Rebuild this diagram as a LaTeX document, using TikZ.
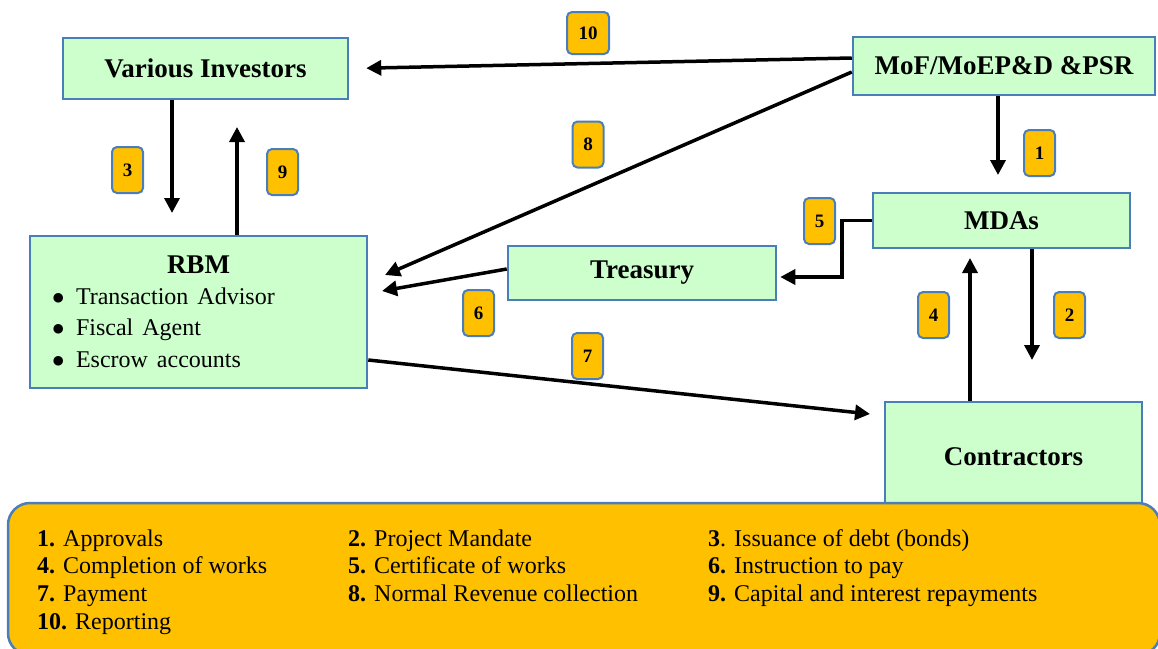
\documentclass[tikz,border=0pt]{standalone}
\usepackage{fontspec}
\setmainfont{Liberation Serif}
\usetikzlibrary{arrows.meta}
\definecolor{boxgreen}{HTML}{CCFFCC}
\definecolor{boxedge}{HTML}{4A7EBB}
\definecolor{amber}{HTML}{FFC000}
\newcommand{\bul}{\makebox[24pt][l]{$\bullet$}}

\begin{document}
\begin{tikzpicture}[x=1pt, y=-1pt,
  box/.style={rectangle, draw=boxedge, fill=boxgreen, line width=2.5pt,
    font=\bfseries\fontsize{27}{32}\selectfont},
  badge/.style={rectangle, rounded corners=5pt, draw=boxedge, fill=amber,
    line width=2pt, minimum width=31pt, minimum height=46pt, inner sep=0pt,
    font=\bfseries\fontsize{19}{22}\selectfont},
  flow/.style={line width=3.5pt, -{Triangle[length=15pt,width=15pt]}}]
  \useasboundingbox (0,0) rectangle (1158,648);

  % Nodes
  \draw (205.5,68.5) node(inv) [box, minimum width=285pt, minimum height=61pt] {Various Investors};
  \draw (1004,66)    node(mof) [box, minimum width=302pt, minimum height=58pt] {MoF/MoEP\&D \&PSR};
  \draw (1001.5,220.5) node(mda) [box, minimum width=257pt, minimum height=55pt] {MDAs};
  \draw (642,273)    node(tre) [box, minimum width=268pt, minimum height=54pt] {Treasury};
  \draw (198.5,312)  node(rbm) [box, minimum width=337pt, minimum height=152pt,
    text width=293pt, inner xsep=22pt, align=left] {\centerline{RBM}
    \mdseries\fontsize{24}{31}\selectfont\bul Transaction Advisor\\
    \bul Fiscal Agent\\ \bul Escrow accounts};
  \draw (1013.5,457) node(con) [box, minimum width=257pt, minimum height=110pt] {Contractors};

  % Key
  \draw (584,579) node(key) [rectangle, rounded corners=22pt, draw=boxedge, fill=amber,
    line width=2.5pt, minimum width=1152pt, minimum height=152pt] {};
  \draw (37,546) node(keytext) [anchor=base west, inner sep=0pt] {\fontsize{24}{27.7}\selectfont
    \begin{tabular}[t]{@{}p{311pt}@{}p{360pt}@{}l@{}}
      \textbf{1.} Approvals & \textbf{2.} Project Mandate & \textbf{3}. Issuance of debt (bonds)\\
      \textbf{4.} Completion of works & \textbf{5.} Certificate of works & \textbf{6.} Instruction to pay\\
      \textbf{7.} Payment & \textbf{8.} Normal Revenue collection & \textbf{9.} Capital and interest repayments\\
      \textbf{10.} Reporting & & \\
    \end{tabular}};

  % Free ends
  \coordinate (c1) at (998,175);
  \coordinate (c2) at (1032,360);
  \coordinate (c3) at (172,213);
  \coordinate (c4) at (970,258);
  \coordinate (c6) at (382,291);
  \coordinate (c7) at (870,414);
  \coordinate (c8) at (385,275);
  \coordinate (c9) at (237,127);

  % Edges
  \draw[flow] (mof.south -| c1) -- (c1);
  \draw[flow] (mda.south -| c2) -- (c2);
  \draw[flow] (inv.south -| c3) -- (c3);
  \draw[flow] (con.north -| c4) -- (c4);
  \draw[flow, shorten >=3pt] (mda.west) -- ++(-30,0) |- ([yshift=-4pt]tre.east);
  \draw[flow] ([yshift=4pt]tre.west) -- (c6);
  \draw[flow] ([yshift=-48pt]rbm.east) -- (c7);
  \draw[flow] ([yshift=-6pt]mof.west) -- (c8);
  \draw[flow] (rbm.north -| c9) -- (c9);
  \draw[flow, shorten >=17pt] ([yshift=8pt]mof.west) -- (inv.east);

  % Badges
  \draw (1039.5,153) node(b1) [badge] {1};
  \draw (1069.5,315) node(b2) [badge] {2};
  \draw (127.5,170)  node(b3) [badge] {3};
  \draw (933.5,315)  node(b4) [badge] {4};
  \draw (819.5,221)  node(b5) [badge] {5};
  \draw (478.5,313)  node(b6) [badge] {6};
  \draw (587.5,356)  node(b7) [badge] {7};
  \draw (588,144.5)  node(b8) [badge] {8};
  \draw (282.5,172)  node(b9) [badge] {9};
  \draw (588,33)     node(b10) [badge, minimum width=42pt, minimum height=42pt] {10};

\end{tikzpicture}
\end{document}
